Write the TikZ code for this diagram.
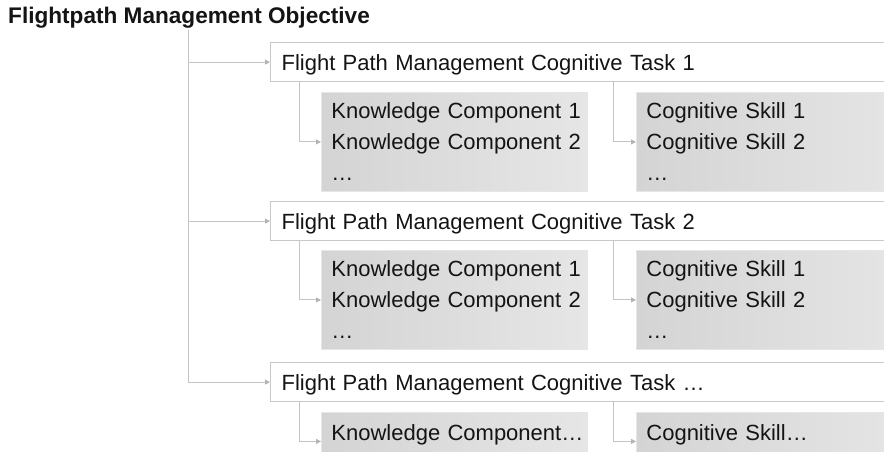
\documentclass[tikz,border=0pt]{standalone}
\usepackage{fontspec}
\setmainfont{Liberation Sans}
\usetikzlibrary{arrows.meta}
\definecolor{linegray}{HTML}{C4C4C4}
\definecolor{tipgray}{HTML}{B4B4B4}
\definecolor{boxline}{HTML}{C8C8C8}
\definecolor{fillL}{HTML}{D4D4D4}
\definecolor{fillR}{HTML}{E6E6E6}
\definecolor{ink}{HTML}{141414}
\hbadness=10000 \hfuzz=100pt
\tikzset{
  body/.style={font=\fontsize{22}{31}\selectfont, text=ink},
  taskbox/.style={body, draw=boxline, line width=1.2pt, fill=white,
    anchor=north west, minimum height=39pt, text width=618pt, inner xsep=11pt,
    inner ysep=0pt, align=left, text height=15.8pt, text depth=0pt},
  itembox/.style={body, draw=fillR, line width=0.8pt, left color=fillL, right color=fillR,
    anchor=north west, inner xsep=10pt, inner ysep=0pt, align=left},
  listbox/.style={itembox, minimum height=99pt},
  linebox/.style={itembox, minimum height=48pt, text height=15.8pt, text depth=8pt},
  conn/.style={draw=linegray, line width=0.9pt,
    -{Triangle[length=5pt,width=5pt,color=tipgray]}},
}
\begin{document}
\begin{tikzpicture}[x=1pt,y=-1pt]
  \useasboundingbox (0,0) rectangle (884,451);
  \clip (0,0) rectangle (884,451);

  % objective heading
  \node[anchor=base west, inner sep=0pt, font=\fontsize{22.6}{25}\selectfont\bfseries, text=ink]
    (obj) at (8,23) {Flightpath Management Objective};
  \coordinate (trunk) at (188,30);

  % cognitive tasks
  \node[taskbox] (t1) at (270,42)  {Flight Path Management Cognitive Task 1};
  \node[taskbox] (t2) at (270,201) {Flight Path Management Cognitive Task 2};
  \node[taskbox] (t3) at (270,362) {Flight Path Management Cognitive Task \char"2026};

  % knowledge components and cognitive skills
  \node[listbox, text width=246pt] (k1) at (321,92)
    {\mbox{Knowledge Component 1}\\\mbox{Knowledge Component 2}\\\char"2026};
  \node[listbox, text width=260pt] (s1) at (636,92)
    {\mbox{Cognitive Skill 1}\\\mbox{Cognitive Skill 2}\\\char"2026};
  \node[listbox, text width=246pt] (k2) at (321,250)
    {\mbox{Knowledge Component 1}\\\mbox{Knowledge Component 2}\\\char"2026};
  \node[listbox, text width=260pt] (s2) at (636,250)
    {\mbox{Cognitive Skill 1}\\\mbox{Cognitive Skill 2}\\\char"2026};
  \node[linebox, text width=246pt] (k3) at (321,412) {\mbox{Knowledge Component\char"2026}};
  \node[linebox, text width=260pt] (s3) at (636,412) {\mbox{Cognitive Skill\char"2026}};

  % connectors from the objective to each task
  \foreach \t in {t1,t2,t3}
    \draw[conn] (trunk) |- (\t.west);

  % connectors from each task to its components and skills
  \foreach \t/\k/\s in {t1/k1/s1, t2/k2/s2} {
    \draw[conn] ([xshift=29pt]\t.south west) |- (\k.west);
    \draw[conn] ([xshift=343pt]\t.south west) |- (\s.west);
  }
  \draw[conn] ([xshift=29pt]t3.south west) |- ([yshift=-5pt]k3.west);
  \draw[conn] ([xshift=343pt]t3.south west) |- ([yshift=-5pt]s3.west);
\end{tikzpicture}
\end{document}
